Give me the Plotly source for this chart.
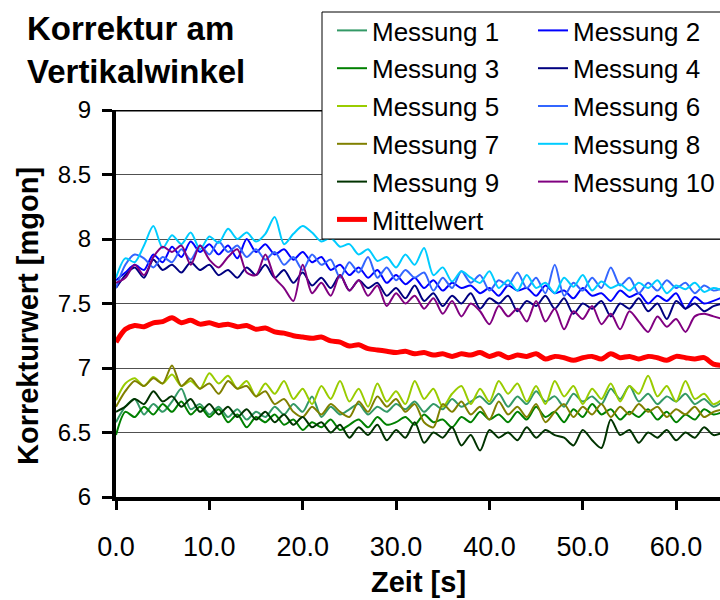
import plotly.graph_objects as go

zeit = list(range(0, 66))

messung_1 = [6.58, 6.70, 6.76, 6.64, 6.72, 6.66, 6.74, 6.84, 6.68, 6.72, 6.64, 6.70, 6.62, 6.68, 6.60, 6.66, 6.62, 6.70, 6.64, 6.72,
             6.66, 6.78, 6.62, 6.70, 6.64, 6.68, 6.72, 6.64, 6.70, 6.66, 6.72, 6.68, 6.74, 6.66, 6.72, 6.68, 6.76, 6.70, 6.74, 6.78,
             6.72, 6.80, 6.70, 6.78, 6.72, 6.82, 6.74, 6.78, 6.70, 6.80, 6.74, 6.78, 6.72, 6.84, 6.76, 6.86, 6.74, 6.80, 6.72, 6.78,
             6.74, 6.80, 6.72, 6.76, 6.70, 6.74]
messung_2 = [7.68, 7.74, 7.80, 7.76, 7.88, 7.82, 7.94, 7.86, 7.98, 7.90, 7.96, 7.88, 7.95, 7.85, 8.00, 7.90, 7.96, 7.88, 7.92, 7.84,
             7.90, 7.82, 7.86, 7.76, 7.80, 7.72, 7.78, 7.70, 7.76, 7.66, 7.72, 7.65, 7.70, 7.62, 7.68, 7.60, 7.66, 7.62, 7.64, 7.58,
             7.62, 7.56, 7.64, 7.60, 7.62, 7.56, 7.64, 7.58, 7.60, 7.54, 7.62, 7.56, 7.58, 7.52, 7.60, 7.55, 7.58, 7.50, 7.56, 7.52,
             7.58, 7.46, 7.55, 7.50, 7.52, 7.55]
messung_3 = [6.48, 6.66, 6.62, 6.70, 6.64, 6.72, 6.66, 6.74, 6.64, 6.70, 6.62, 6.68, 6.58, 6.64, 6.54, 6.62, 6.58, 6.64, 6.56, 6.60,
             6.52, 6.58, 6.54, 6.60, 6.52, 6.56, 6.60, 6.54, 6.62, 6.56, 6.58, 6.62, 6.56, 6.64, 6.58, 6.60, 6.54, 6.62, 6.58, 6.66,
             6.60, 6.64, 6.58, 6.66, 6.60, 6.70, 6.62, 6.66, 6.58, 6.68, 6.62, 6.72, 6.64, 6.68, 6.60, 6.66, 6.62, 6.68, 6.60, 6.66,
             6.58, 6.64, 6.60, 6.68, 6.64, 6.66]
messung_4 = [7.62, 7.72, 7.78, 7.70, 7.84, 7.76, 7.80, 7.74, 7.82, 7.76, 7.80, 7.72, 7.76, 7.70, 7.78, 7.72, 7.80, 7.70, 7.76, 7.66,
             7.74, 7.64, 7.70, 7.62, 7.72, 7.60, 7.68, 7.62, 7.66, 7.56, 7.62, 7.54, 7.64, 7.52, 7.58, 7.48, 7.56, 7.50, 7.58, 7.46,
             7.54, 7.50, 7.56, 7.44, 7.52, 7.48, 7.56, 7.46, 7.54, 7.42, 7.50, 7.46, 7.52, 7.40, 7.50, 7.46, 7.54, 7.44, 7.50, 7.38,
             7.52, 7.46, 7.50, 7.44, 7.48, 7.50]
messung_5 = [6.75, 6.88, 6.92, 6.86, 6.93, 6.88, 6.95, 6.86, 6.90, 6.84, 6.96, 6.88, 6.94, 6.84, 6.90, 6.78, 6.88, 6.80, 6.90, 6.76,
             6.84, 6.72, 6.86, 6.76, 6.90, 6.74, 6.84, 6.70, 6.88, 6.74, 6.82, 6.72, 6.90, 6.76, 6.84, 6.70, 6.80, 6.86, 6.72, 6.84,
             6.74, 6.90, 6.80, 6.88, 6.74, 6.86, 6.72, 6.90, 6.78, 6.86, 6.72, 6.84, 6.76, 6.88, 6.74, 6.86, 6.80, 6.94, 6.78, 6.86,
             6.74, 6.90, 6.76, 6.80, 6.72, 6.76]
messung_6 = [7.62, 7.80, 7.88, 7.85, 7.78, 7.86, 7.82, 7.92, 7.84, 7.95, 7.88, 7.98, 7.90, 7.95, 7.86, 7.92, 7.84, 7.90, 7.80, 7.86,
             7.76, 7.88, 7.80, 7.84, 7.70, 7.82, 7.74, 7.86, 7.70, 7.78, 7.68, 7.76, 7.70, 7.74, 7.60, 7.70, 7.62, 7.75, 7.66, 7.72,
             7.60, 7.68, 7.64, 7.74, 7.62, 7.70, 7.58, 7.80, 7.56, 7.66, 7.60, 7.70, 7.62, 7.78, 7.64, 7.70, 7.58, 7.66, 7.60, 7.68,
             7.62, 7.66, 7.58, 7.64, 7.60, 7.62]
messung_7 = [6.70, 6.82, 6.90, 6.86, 6.92, 6.88, 7.02, 6.86, 6.92, 6.84, 6.88, 6.80, 6.90, 6.84, 6.86, 6.78, 6.82, 6.72, 6.76, 6.66,
             6.62, 6.70, 6.64, 6.72, 6.66, 6.62, 6.74, 6.66, 6.78, 6.70, 6.76, 6.66, 6.72, 6.58, 6.54, 6.72, 6.66, 6.74, 6.64, 6.70,
             6.60, 6.74, 6.64, 6.70, 6.62, 6.72, 6.58, 6.66, 6.72, 6.62, 6.70, 6.64, 6.72, 6.62, 6.70, 6.64, 6.72, 6.66, 6.70, 6.62,
             6.68, 6.64, 6.70, 6.62, 6.66, 6.68]
messung_8 = [7.70, 7.85, 7.82, 7.95, 8.10, 7.93, 8.03, 7.96, 8.05, 7.92, 8.02, 7.97, 8.08, 8.00, 8.05, 7.98, 8.04, 8.17, 7.96, 8.04,
             8.10, 8.05, 7.98, 8.01, 7.94, 7.96, 7.88, 7.92, 7.83, 7.86, 7.78, 7.88, 7.80, 7.93, 7.72, 7.78, 7.67, 7.75, 7.70, 7.66,
             7.75, 7.62, 7.68, 7.60, 7.72, 7.62, 7.66, 7.58, 7.70, 7.63, 7.72, 7.60, 7.67, 7.62, 7.65, 7.60, 7.66, 7.62, 7.68, 7.58,
             7.64, 7.61, 7.66, 7.59, 7.62, 7.60]
messung_9 = [6.66, 6.70, 6.76, 6.72, 6.82, 6.74, 6.78, 6.70, 6.76, 6.66, 6.72, 6.64, 6.70, 6.62, 6.68, 6.60, 6.66, 6.58, 6.64, 6.56,
             6.62, 6.54, 6.58, 6.50, 6.56, 6.46, 6.54, 6.48, 6.56, 6.44, 6.52, 6.46, 6.58, 6.42, 6.50, 6.46, 6.54, 6.40, 6.48, 6.36,
             6.52, 6.46, 6.50, 6.44, 6.54, 6.46, 6.52, 6.48, 6.46, 6.40, 6.52, 6.44, 6.38, 6.60, 6.48, 6.52, 6.42, 6.50, 6.46, 6.52,
             6.44, 6.50, 6.46, 6.54, 6.48, 6.50]
messung_10 = [7.66, 7.70, 7.80, 7.72, 7.86, 7.94, 7.90, 7.95, 7.80, 7.95, 7.84, 7.78, 7.86, 7.92, 7.74, 7.72, 7.88, 7.70, 7.62, 7.52,
              7.80, 7.58, 7.66, 7.56, 7.72, 7.60, 7.68, 7.56, 7.64, 7.48, 7.58, 7.50, 7.56, 7.46, 7.54, 7.42, 7.52, 7.40, 7.50, 7.44,
              7.34, 7.48, 7.40, 7.46, 7.36, 7.52, 7.36, 7.46, 7.30, 7.44, 7.38, 7.48, 7.34, 7.42, 7.30, 7.44, 7.36, 7.28, 7.40, 7.32,
              7.38, 7.28, 7.40, 7.42, 7.40, 7.38]
mittelwert = [7.20, 7.30, 7.33, 7.32, 7.35, 7.36, 7.39, 7.35, 7.37, 7.34, 7.35, 7.33, 7.34, 7.32, 7.33, 7.30, 7.31, 7.28, 7.27, 7.25,
              7.24, 7.23, 7.24, 7.21, 7.20, 7.17, 7.18, 7.15, 7.14, 7.13, 7.12, 7.13, 7.11, 7.12, 7.10, 7.11, 7.09, 7.11, 7.10, 7.12,
              7.09, 7.11, 7.08, 7.10, 7.09, 7.11, 7.07, 7.09, 7.08, 7.06, 7.08, 7.09, 7.07, 7.11, 7.08, 7.09, 7.07, 7.09, 7.08, 7.06,
              7.09, 7.08, 7.07, 7.08, 7.03, 7.02]

series_names = ["Messung 1", "Messung 2", "Messung 3", "Messung 4", "Messung 5",
                "Messung 6", "Messung 7", "Messung 8", "Messung 9", "Messung 10"]
series_values = [messung_1, messung_2, messung_3, messung_4, messung_5,
                 messung_6, messung_7, messung_8, messung_9, messung_10]
series_colors = ["#339966", "#0000FF", "#008000", "#000080", "#99CC00",
                 "#3366FF", "#808000", "#00CCFF", "#003300", "#800080"]

x_ticks = [0, 10, 20, 30, 40, 50, 60]
y_ticks = [6, 6.5, 7, 7.5, 8, 8.5, 9]

W, H = 720, 600
# plot area in screen pixels: x 116..720, y 110..497
L, T, R = 116, 110, 0
B = H - 497
pw = W - L - R
ph = H - T - B

def sx(px):
    """screen x pixel -> paper fraction"""
    return (px - L) / pw

def sy(py):
    """screen y pixel -> paper fraction"""
    return (H - B - py) / ph

FONT = "Liberation Sans, Arial, sans-serif"

fig = go.Figure()
for i, (name, vals, col) in enumerate(zip(series_names, series_values, series_colors)):
    fig.add_trace(go.Scatter(
        x=zeit, y=vals, name=name, mode="lines",
        line=dict(color=col, width=2, shape="spline", smoothing=0.8),
        legend="legend" if i % 2 == 0 else "legend2",
        legendgroup=name,
    ))
fig.add_trace(go.Scatter(
    x=zeit, y=mittelwert, name="Mittelwert", mode="lines",
    line=dict(color="#FF0000", width=5, shape="spline", smoothing=0.8),
    legend="legend", legendgroup="Mittelwert",
))

legend_common = dict(
    font=dict(family=FONT, size=26, color="black"),
    bgcolor="rgba(0,0,0,0)", borderwidth=0,
    tracegroupgap=1, yanchor="top", xanchor="left",
    traceorder="grouped",
)
fig.update_layout(
    width=W, height=H,
    margin=dict(l=L, r=R, t=T, b=B, autoexpand=False),
    paper_bgcolor="white", plot_bgcolor="white",
    font=dict(family=FONT, size=24, color="black"),
    showlegend=True,
    legend=dict(x=sx(332), y=sy(7), **legend_common),
    legend2=dict(x=sx(533), y=sy(7), **legend_common),
    xaxis=dict(
        range=[0, 64.7], tickvals=x_ticks, tickformat=".1f",
        showline=True, linecolor="black", linewidth=4,
        ticks="outside", ticklen=9, tickwidth=3, tickcolor="black",
        showgrid=False, zeroline=False,
        tickfont=dict(family=FONT, size=27),
        ticklabelstandoff=14,
    ),
    yaxis=dict(
        range=[6, 9], tickvals=y_ticks,
        showline=True, linecolor="black", linewidth=4,
        ticks="outside", ticklen=10, tickwidth=3, tickcolor="black",
        showgrid=True, gridcolor="#505050", gridwidth=1,
        zeroline=False,
        tickfont=dict(family=FONT, size=24),
        ticklabelstandoff=6,
    ),
    shapes=[
        dict(type="line", xref="paper", yref="y", x0=0, x1=1, y0=9, y1=9,
             line=dict(color="black", width=3), layer="above"),
        dict(type="rect", xref="paper", yref="paper",
             x0=sx(322), x1=sx(724), y0=sy(239), y1=sy(12),
             line=dict(color="black", width=1), fillcolor="white", layer="above"),
    ],
    annotations=[
        dict(text="<b>Korrektur am</b>", xref="paper", yref="paper",
             x=sx(25), y=sy(28), xanchor="left", yanchor="middle",
             showarrow=False, font=dict(family=FONT, size=33, color="black")),
        dict(text="<b>Vertikalwinkel</b>", xref="paper", yref="paper",
             x=sx(25), y=sy(71), xanchor="left", yanchor="middle",
             showarrow=False, font=dict(family=FONT, size=33, color="black")),
        dict(text="<b>Korrekturwert [mgon]</b>", xref="paper", yref="paper",
             x=sx(28), y=sy(316), xanchor="center", yanchor="middle",
             textangle=-90,
             showarrow=False, font=dict(family=FONT, size=29, color="black")),
        dict(text="<b>Zeit [s]</b>", xref="paper", yref="paper",
             x=sx(418), y=sy(582), xanchor="center", yanchor="middle",
             showarrow=False, font=dict(family=FONT, size=29, color="black")),
    ],
)

# remove the browser's default 8px page margin so the 720x600 figure fills the window
fig.write_html("out.html",
               config={"displayModeBar": False},
               post_script="document.body.style.margin='0';document.body.style.overflow='hidden';")
